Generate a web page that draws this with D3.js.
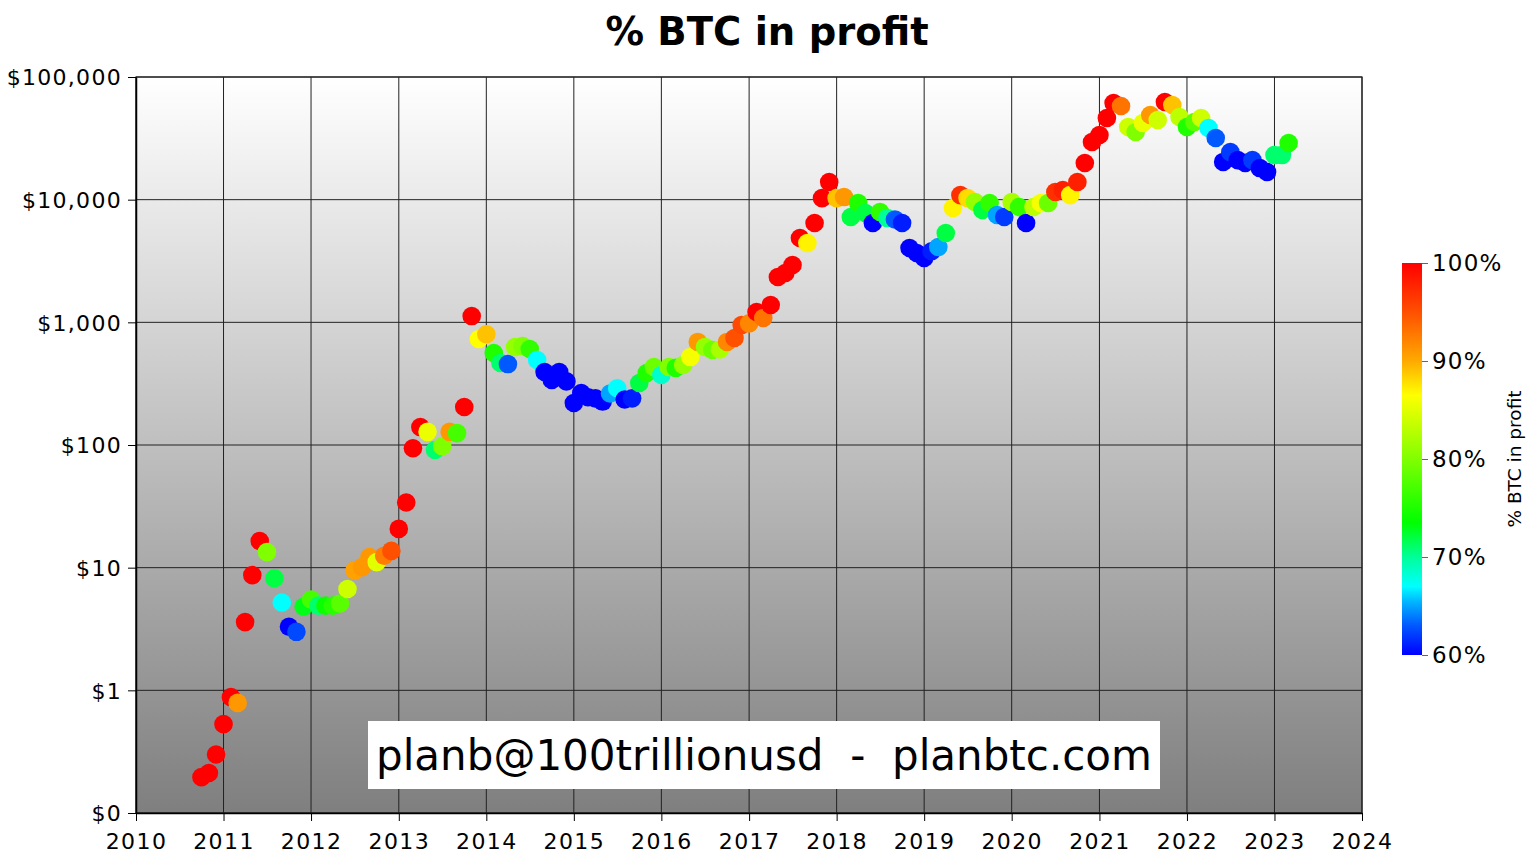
<!DOCTYPE html>
<html><head><meta charset="utf-8">
<script src="https://cdn.jsdelivr.net/npm/d3@7/dist/d3.min.js"></script>
<style>body{margin:0;background:#fff}text{font-family:"DejaVu Sans",sans-serif}</style>
</head><body><svg id="c" width="1536" height="863"></svg>
<script>
const months = [
"2010-10","2010-11","2010-12",
"2011-01","2011-02","2011-03","2011-04","2011-05","2011-06","2011-07","2011-08","2011-09","2011-10","2011-11","2011-12",
"2012-01","2012-02","2012-03","2012-04","2012-05","2012-06","2012-07","2012-08","2012-09","2012-10","2012-11","2012-12",
"2013-01","2013-02","2013-03","2013-04","2013-05","2013-06","2013-07","2013-08","2013-09","2013-10","2013-11","2013-12",
"2014-01","2014-02","2014-03","2014-04","2014-05","2014-06","2014-07","2014-08","2014-09","2014-10","2014-11","2014-12",
"2015-01","2015-02","2015-03","2015-04","2015-05","2015-06","2015-07","2015-08","2015-09","2015-10","2015-11","2015-12",
"2016-01","2016-02","2016-03","2016-04","2016-05","2016-06","2016-07","2016-08","2016-09","2016-10","2016-11","2016-12",
"2017-01","2017-02","2017-03","2017-04","2017-05","2017-06","2017-07","2017-08","2017-09","2017-10","2017-11","2017-12",
"2018-01","2018-02","2018-03","2018-04","2018-05","2018-06","2018-07","2018-08","2018-09","2018-10","2018-11","2018-12",
"2019-01","2019-02","2019-03","2019-04","2019-05","2019-06","2019-07","2019-08","2019-09","2019-10","2019-11","2019-12",
"2020-01","2020-02","2020-03","2020-04","2020-05","2020-06","2020-07","2020-08","2020-09","2020-10","2020-11","2020-12",
"2021-01","2021-02","2021-03","2021-04","2021-05","2021-06","2021-07","2021-08","2021-09","2021-10","2021-11","2021-12",
"2022-01","2022-02","2022-03","2022-04","2022-05","2022-06","2022-07","2022-08","2022-09","2022-10","2022-11","2022-12",
"2023-01","2023-02","2023-03"];
const prices = [
0.196,0.212,0.30,
0.53,0.88,0.79,3.6,8.7,16.5,13.4,8.2,5.2,3.3,3.0,4.8,
5.5,4.9,4.9,4.9,5.1,6.7,9.5,10.1,12.2,11.1,12.5,13.7,
20.7,34,94,140,128,91,98,128,125,204,1125,731,
800,562,466,457,629,640,606,493,394,339,394,330,
220,265,245,240,226,263,290,235,240,320,386,432,
372,432,425,449,521,692,630,595,600,692,745,951,
980,1213,1085,1384,2342,2525,2933,4866,4435,6450,10300,13930,
10300,10500,7220,9390,7780,6450,7930,7080,6900,6450,4035,3675,
3345,3800,4110,5350,8550,10900,10300,9570,8240,9390,7500,7230,
9570,8710,6450,8710,9390,9390,11550,12000,10900,13930,19900,29500,
33650,46340,61400,58000,39100,35600,42200,49000,44600,62500,59100,47200,
39100,43000,46340,38400,31800,20300,24400,21000,19900,21000,18100,16800,
23100,23100,28970];
const profitPct = [
100,100,100,
100,100,91,100,100,100,80,72,67,60,62.5,73,
77,71,74,75.5,78,84,90.5,91,91,85,92.5,95,
100,100,100,100,85.5,71,80,91,77,100,100,86.5,
89,75,71,63,81,80,76,67,60,60,60,60,
60,60,60,60,60,65,67,60,61,72,75,79,
68.5,80,75,81,86,91,81,79,82,92,95,95.5,
92,100,93,100,100,100,100,100,87,100,100,100,
89,91,72,75,72,60,76,70,63,61,60,60,
60,61,65,72,87,97,88,81,72,76,65,62,
82,76,60,83,86,79,97,98,87,98,100,100,
100,100,100,93,84,80,85.5,91,84,100,89,83,
75,78,84,67,63,60,62,60,60,62,60,60,
71,71,75];
const yTickValues = [0.1,1,10,100,1000,10000,100000];
const yTickLabels = ["$0","$1","$10","$100","$1,000","$10,000","$100,000"];
const xTickYears = [2010,2011,2012,2013,2014,2015,2016,2017,2018,2019,2020,2021,2022,2023,2024];
const colorbarTicks = [60,70,80,90,100];
const colorStops = [60,63,65.5,67,70,73.5,80,86.5,90,95,100];
const colorStopValues = ["#0000ff","#0058ff","#00b8ff","#00ffff","#00ff99","#00ff00","#80ff00","#ffff00","#ffaa00","#ff5000","#ff0000"];

const svg = d3.select("#c");
const L=136,R=1362,T=77,B=813;
const x = d3.scaleTime().domain([new Date(2010,0,1),new Date(2024,0,1)]).range([L,R]);
const y = d3.scaleLog().domain([0.1,100000]).range([B,T]);
const color = d3.scaleLinear().domain(colorStops).range(colorStopValues).interpolate(d3.interpolateRgb).clamp(true);
const parse = d3.timeParse("%Y-%m");
const data = months.map((m,i)=>({d:parse(m),p:prices[i],c:profitPct[i]}));

const defs = svg.append("defs");
const bg = defs.append("linearGradient").attr("id","bg").attr("x1",0).attr("y1",0).attr("x2",0).attr("y2",1);
bg.append("stop").attr("offset","0%").attr("stop-color","#ffffff");
bg.append("stop").attr("offset","100%").attr("stop-color","#7f7f7f");
svg.append("rect").attr("x",L).attr("y",T).attr("width",R-L).attr("height",B-T).attr("fill","url(#bg)");

// grid
svg.append("g").selectAll("line").data(xTickYears).join("line")
  .attr("x1",d=>x(new Date(d,0,1))).attr("x2",d=>x(new Date(d,0,1)))
  .attr("y1",T).attr("y2",B).attr("stroke","#222").attr("stroke-width",1);
svg.append("g").selectAll("line").data(yTickValues).join("line")
  .attr("x1",L).attr("x2",R).attr("y1",d=>y(d)).attr("y2",d=>y(d))
  .attr("stroke","#222").attr("stroke-width",1);

// dots
svg.append("g").selectAll("circle").data(data).join("circle")
  .attr("cx",d=>x(d.d)).attr("cy",d=>y(d.p)).attr("r",9.3)
  .attr("fill",d=>color(d.c));

// watermark
svg.append("rect").attr("x",368).attr("y",721).attr("width",792).attr("height",68).attr("fill","#fff");
svg.append("text").attr("x",764).attr("y",770).attr("text-anchor","middle")
  .attr("font-size",42).attr("fill","#000").text("planb@100trillionusd  -  planbtc.com").style("white-space","pre");

// frame
svg.append("rect").attr("x",L).attr("y",T).attr("width",R-L).attr("height",B-T).attr("fill","none").attr("stroke","#222").attr("stroke-width",1.2);

// axes
const xAxis = d3.axisBottom(x).tickValues(xTickYears.map(v=>new Date(v,0,1))).tickFormat(d3.timeFormat("%Y")).tickSize(8).tickSizeOuter(0);
const gx = svg.append("g").attr("transform",`translate(0,${B})`).call(xAxis);
gx.select(".domain").attr("stroke","#000").attr("stroke-width",1.5);
gx.selectAll(".tick line").attr("stroke","#000");
gx.selectAll("text").attr("font-size",22).attr("letter-spacing","1.4px").attr("fill","#000").attr("dy",null).attr("y",36).style("font-family","DejaVu Sans");

const yAxis = d3.axisLeft(y).tickValues(yTickValues).tickFormat((d,i)=>yTickLabels[i]).tickSize(8).tickSizeOuter(0);
const gy = svg.append("g").attr("transform",`translate(${L},0)`).call(yAxis);
gy.select(".domain").attr("stroke","#000").attr("stroke-width",1.5);
gy.selectAll(".tick line").attr("stroke","#000");
gy.selectAll("text").attr("font-size",22).attr("letter-spacing","1.3px").attr("fill","#000").attr("x",-14).attr("dy","0.35em").style("font-family","DejaVu Sans");

// title
svg.append("text").attr("x",767).attr("y",45).attr("text-anchor","middle")
  .attr("font-size",38.5).attr("font-weight","bold").attr("fill","#000").text("% BTC in profit");

// colorbar
const cb = d3.scaleLinear().domain([60,100]).range([655,263]);
const cg = defs.append("linearGradient").attr("id","cbg").attr("x1",0).attr("y1",1).attr("x2",0).attr("y2",0);
colorStops.forEach((s,i)=>cg.append("stop").attr("offset",((s-60)/40*100)+"%").attr("stop-color",colorStopValues[i]));
svg.append("rect").attr("x",1402).attr("y",263).attr("width",20).attr("height",392).attr("fill","url(#cbg)");
const cbAxis = d3.axisRight(cb).tickValues(colorbarTicks).tickFormat(d=>d+"%").tickSize(6).tickSizeOuter(0);
const gc = svg.append("g").attr("transform","translate(1422,0)").call(cbAxis);
gc.select(".domain").remove();
gc.selectAll(".tick line").attr("stroke","#666");
gc.selectAll("text").attr("font-size",23).attr("letter-spacing","1.2px").attr("fill","#000").attr("x",10).style("font-family","DejaVu Sans");
svg.append("text").attr("transform","translate(1521,459) rotate(-90)").attr("text-anchor","middle")
  .attr("font-size",18.5).attr("fill","#000").text("% BTC in profit");
</script></body></html>
